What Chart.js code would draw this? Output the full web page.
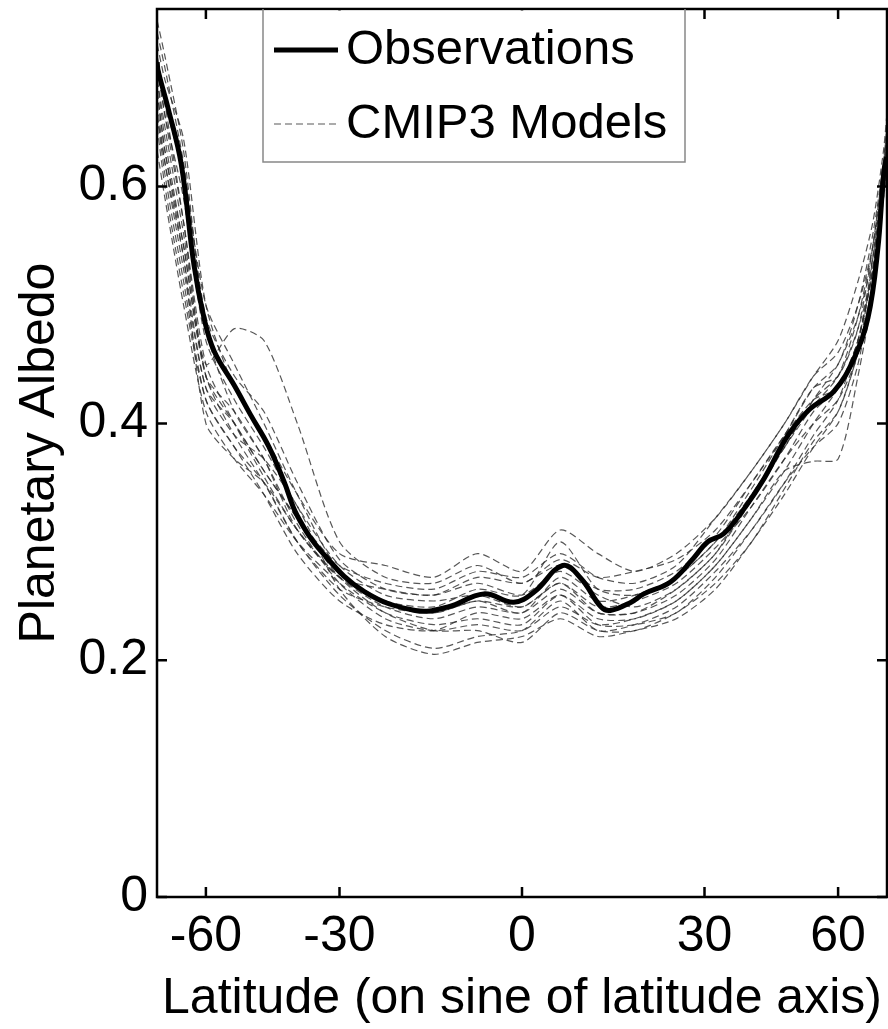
<!DOCTYPE html>
<html>
<head>
<meta charset="utf-8">
<title>Planetary Albedo</title>
<script src="https://cdn.jsdelivr.net/npm/chart.js@4.4.1/dist/chart.umd.min.js"></script>
<style>
  html, body { margin: 0; padding: 0; background: #fff; }
  #wrap { width: 888px; height: 1029px; position: relative; }
</style>
</head>
<body>
<div id="wrap"><canvas id="chartAlbedo"></canvas></div>
<script>
// --- data (latitude in degrees, albedo) ---
const xTickLats = [-60, -30, 0, 30, 60];
const yTicks = [0, 0.2, 0.4, 0.6];

const obsLat = [-88, -85.6, -76, -69, -64, -60.6, -57.5, -52, -48, -44, -40.7, -38, -33, -25.6, -17, -11.7, -6, -1.3, 2, 6.4, 9.3, 12.5, 14, 17.4, 19.5, 24, 28, 30.6, 33.6, 37.5, 41.5, 46.8, 52, 58.7, 65.5, 71.4, 77, 82.7, 88];
const obsAlb = [0.705, 0.698, 0.667, 0.619, 0.534, 0.489, 0.461, 0.432, 0.407, 0.381, 0.351, 0.322, 0.29, 0.258, 0.242, 0.245, 0.256, 0.249, 0.258, 0.280, 0.269, 0.245, 0.242, 0.249, 0.256, 0.266, 0.286, 0.300, 0.307, 0.328, 0.353, 0.390, 0.412, 0.427, 0.455, 0.489, 0.546, 0.614, 0.625];

const modelLat = [-88, -78, -68, -60, -52, -45, -38, -30, -22, -14, -7, 0, 6, 12, 18, 25, 32, 39, 46, 53, 60, 67, 74, 82, 88];
const model01 = [0.74, 0.71, 0.63, 0.48, 0.41, 0.37, 0.31, 0.27, 0.25, 0.245, 0.26, 0.255, 0.30, 0.26, 0.255, 0.27, 0.30, 0.34, 0.38, 0.42, 0.44, 0.48, 0.53, 0.60, 0.63];
const model02 = [0.69, 0.64, 0.55, 0.45, 0.48, 0.47, 0.40, 0.30, 0.27, 0.265, 0.28, 0.265, 0.285, 0.27, 0.275, 0.285, 0.31, 0.35, 0.39, 0.43, 0.45, 0.50, 0.56, 0.62, 0.65];
const model03 = [0.66, 0.61, 0.52, 0.42, 0.38, 0.35, 0.30, 0.255, 0.225, 0.21, 0.22, 0.225, 0.25, 0.225, 0.23, 0.245, 0.275, 0.31, 0.35, 0.39, 0.42, 0.47, 0.53, 0.60, 0.63];
const model04 = [0.71, 0.67, 0.57, 0.44, 0.40, 0.36, 0.32, 0.28, 0.265, 0.26, 0.275, 0.27, 0.29, 0.27, 0.265, 0.28, 0.32, 0.36, 0.40, 0.44, 0.46, 0.50, 0.55, 0.61, 0.64];
const model05 = [0.63, 0.59, 0.50, 0.41, 0.37, 0.34, 0.30, 0.265, 0.24, 0.23, 0.235, 0.23, 0.255, 0.235, 0.235, 0.25, 0.28, 0.32, 0.36, 0.368, 0.37, 0.44, 0.51, 0.59, 0.62];
const model06 = [0.72, 0.69, 0.64, 0.50, 0.43, 0.39, 0.34, 0.29, 0.28, 0.27, 0.29, 0.275, 0.31, 0.29, 0.275, 0.29, 0.32, 0.36, 0.40, 0.44, 0.47, 0.52, 0.57, 0.63, 0.66];
const model07 = [0.67, 0.62, 0.53, 0.43, 0.39, 0.37, 0.33, 0.26, 0.22, 0.205, 0.215, 0.22, 0.235, 0.22, 0.225, 0.235, 0.26, 0.30, 0.34, 0.38, 0.41, 0.46, 0.52, 0.59, 0.62];
const model08 = [0.70, 0.66, 0.59, 0.47, 0.42, 0.38, 0.33, 0.28, 0.255, 0.25, 0.255, 0.245, 0.265, 0.245, 0.25, 0.265, 0.295, 0.33, 0.37, 0.41, 0.43, 0.47, 0.53, 0.61, 0.64];
const model09 = [0.68, 0.63, 0.54, 0.40, 0.37, 0.35, 0.31, 0.27, 0.245, 0.235, 0.245, 0.24, 0.26, 0.24, 0.24, 0.255, 0.285, 0.33, 0.37, 0.40, 0.42, 0.46, 0.54, 0.61, 0.64];
const model10 = [0.73, 0.70, 0.62, 0.49, 0.44, 0.41, 0.35, 0.285, 0.26, 0.255, 0.265, 0.255, 0.275, 0.255, 0.245, 0.26, 0.29, 0.335, 0.38, 0.42, 0.45, 0.49, 0.54, 0.60, 0.63];
const model11 = [0.65, 0.60, 0.51, 0.42, 0.38, 0.34, 0.29, 0.25, 0.23, 0.225, 0.24, 0.235, 0.255, 0.23, 0.23, 0.24, 0.27, 0.31, 0.35, 0.38, 0.40, 0.45, 0.52, 0.60, 0.63];
const model12 = [0.70, 0.67, 0.61, 0.50, 0.45, 0.40, 0.34, 0.275, 0.25, 0.24, 0.25, 0.24, 0.27, 0.25, 0.255, 0.27, 0.30, 0.345, 0.39, 0.43, 0.44, 0.48, 0.55, 0.62, 0.65];
const model13 = [0.68, 0.63, 0.55, 0.44, 0.41, 0.37, 0.315, 0.265, 0.235, 0.225, 0.23, 0.225, 0.245, 0.23, 0.235, 0.25, 0.28, 0.32, 0.36, 0.40, 0.43, 0.47, 0.53, 0.60, 0.62];
const model14 = [0.71, 0.66, 0.57, 0.45, 0.40, 0.355, 0.31, 0.27, 0.26, 0.255, 0.27, 0.265, 0.28, 0.26, 0.26, 0.275, 0.305, 0.35, 0.39, 0.42, 0.43, 0.47, 0.54, 0.61, 0.64];
const model15 = [0.66, 0.62, 0.54, 0.43, 0.40, 0.36, 0.32, 0.27, 0.24, 0.225, 0.225, 0.215, 0.24, 0.225, 0.225, 0.24, 0.265, 0.30, 0.345, 0.385, 0.41, 0.46, 0.52, 0.59, 0.61];
const model16 = [0.69, 0.65, 0.56, 0.44, 0.39, 0.35, 0.30, 0.26, 0.245, 0.24, 0.25, 0.245, 0.265, 0.24, 0.24, 0.26, 0.29, 0.34, 0.38, 0.415, 0.44, 0.49, 0.55, 0.62, 0.64];
const models = [model01, model02, model03, model04, model05, model06, model07, model08,
                model09, model10, model11, model12, model13, model14, model15, model16];

// --- helpers ---
const FONT = 'Liberation Sans, Arial, Helvetica, sans-serif';
const toSin = lat => Math.sin(lat * Math.PI / 180);
const points = (lats, vals) => lats.map((lat, i) => ({ x: toSin(lat), y: vals[i] }));

const datasets = [{
    label: 'Observations',
    data: points(obsLat, obsAlb),
    borderColor: '#000',
    borderWidth: 5,
    pointRadius: 0,
    tension: 0.4,
    order: 0
}];
models.forEach((m, i) => {
    datasets.push({
        label: i === 0 ? 'CMIP3 Models' : '',
        data: points(modelLat, m),
        borderColor: 'rgba(45,45,45,0.8)',
        borderWidth: 1.2,
        borderDash: [7, 4],
        pointRadius: 0,
        tension: 0.25,
        order: 1
    });
});

// frame, inward ticks and legend box
const framePlugin = {
    id: 'frame',
    afterDraw(chart) {
        const { ctx, chartArea: a, scales } = chart;
        ctx.save();
        ctx.strokeStyle = '#000';
        ctx.lineWidth = 2.5;
        ctx.strokeRect(a.left, a.top, a.right - a.left, a.bottom - a.top);
        const tl = 10;
        ctx.beginPath();
        xTickLats.forEach(lat => {
            const px = scales.x.getPixelForValue(toSin(lat));
            ctx.moveTo(px, a.bottom); ctx.lineTo(px, a.bottom - tl);
            ctx.moveTo(px, a.top); ctx.lineTo(px, a.top + tl);
        });
        yTicks.forEach(v => {
            const py = scales.y.getPixelForValue(v);
            ctx.moveTo(a.left, py); ctx.lineTo(a.left + tl, py);
            ctx.moveTo(a.right, py); ctx.lineTo(a.right - tl, py);
        });
        ctx.stroke();

        // legend
        const bx = a.left + 106, by = a.top, bw = 422, bh = 153;
        ctx.fillStyle = '#fff';
        ctx.fillRect(bx, by + 1.5, bw, bh - 1.5);
        ctx.strokeStyle = '#888';
        ctx.lineWidth = 1.5;
        ctx.beginPath();
        ctx.moveTo(bx, by); ctx.lineTo(bx, by + bh); ctx.lineTo(bx + bw, by + bh); ctx.lineTo(bx + bw, by);
        ctx.stroke();

        const rows = [
            { text: datasets[0].label, y: by + 41, ds: datasets[0] },
            { text: datasets[1].label, y: by + 115, ds: datasets[1] }
        ];
        ctx.font = '49px ' + FONT;
        ctx.textBaseline = 'middle';
        ctx.fillStyle = '#000';
        rows.forEach(r => {
            ctx.beginPath();
            ctx.strokeStyle = r.ds.borderColor;
            ctx.lineWidth = r.ds.borderWidth;
            ctx.setLineDash(r.ds.borderDash || []);
            ctx.moveTo(bx + 11, r.y); ctx.lineTo(bx + 75, r.y);
            ctx.stroke();
            ctx.setLineDash([]);
            ctx.fillText(r.text, bx + 83, r.y);
        });
        ctx.restore();
    }
};

new Chart(document.getElementById('chartAlbedo'), {
    type: 'line',
    data: { datasets },
    options: {
        responsive: true,
        maintainAspectRatio: false,
        animation: false,
        layout: { padding: { top: 9, right: 1, left: 0, bottom: 0 } },
        plugins: { legend: { display: false }, tooltip: { enabled: false } },
        scales: {
            x: {
                type: 'linear',
                min: -1,
                max: 1,
                grid: { display: false, drawTicks: false },
                border: { display: false },
                afterBuildTicks: s => { s.ticks = xTickLats.map(l => ({ value: toSin(l) })); },
                ticks: {
                    color: '#000',
                    font: { family: FONT, size: 50 },
                    padding: 10,
                    maxRotation: 0,
                    autoSkip: false,
                    callback: v => String(Math.round(Math.asin(v) * 180 / Math.PI))
                },
                title: {
                    display: true,
                    text: 'Latitude (on sine of latitude axis)',
                    color: '#000',
                    font: { family: FONT, size: 50 },
                    padding: { top: 4, bottom: 0 }
                },
                afterFit: s => { s.height = 132; s.paddingLeft = 0; s.paddingRight = 0; }
            },
            y: {
                min: 0,
                max: 0.75,
                grid: { display: false, drawTicks: false },
                border: { display: false },
                afterBuildTicks: s => { s.ticks = yTicks.map(v => ({ value: v })); },
                ticks: {
                    color: '#000',
                    font: { family: FONT, size: 50 },
                    padding: 9,
                    callback: v => String(v)
                },
                title: {
                    display: true,
                    text: 'Planetary Albedo',
                    color: '#000',
                    font: { family: FONT, size: 50 },
                    padding: { top: 10, bottom: 0 }
                },
                afterFit: s => { s.width = 157; s.paddingTop = 0; s.paddingBottom = 0; }
            }
        }
    },
    plugins: [framePlugin]
});
</script>
</body>
</html>
